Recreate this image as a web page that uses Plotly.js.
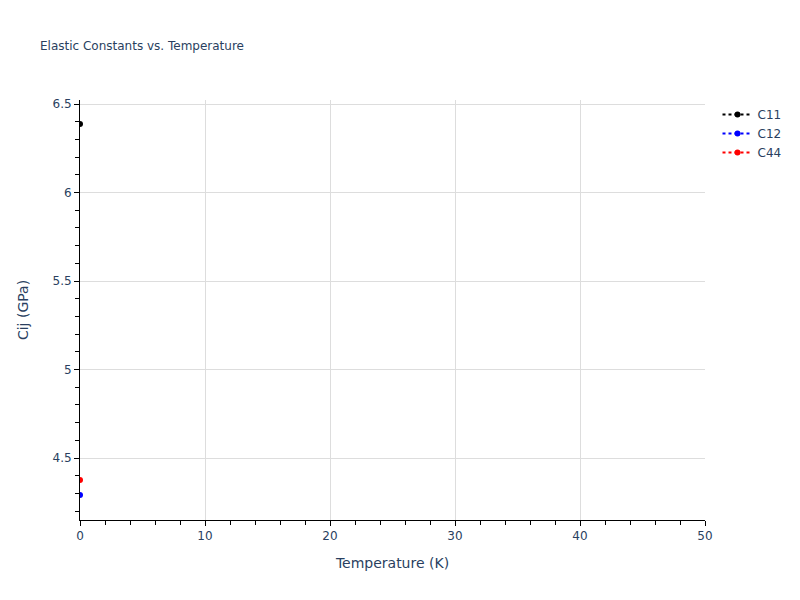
<!DOCTYPE html>
<html>
<head>
<meta charset="utf-8">
<script src="https://cdn.plot.ly/plotly-3.0.1.min.js"></script>
</head>
<body style="margin:0">
<div id="chart" style="width:800px;height:600px;"></div>
<script>
var temps = [0];
var c11 = [6.387];
var c12 = [4.291];
var c44 = [4.376];

function trace(y, name, color) {
  return {
    x: temps,
    y: y,
    name: name,
    mode: 'lines+markers',
    type: 'scatter',
    line: {dash: 'dot', color: color},
    marker: {color: color, size: 6}
  };
}

var data = [
  trace(c11, 'C11', 'black'),
  trace(c12, 'C12', 'blue'),
  trace(c44, 'C44', 'red')
];

var axisStyle = {
  showline: true,
  linecolor: 'black',
  ticks: 'outside',
  tickcolor: 'black',
  gridcolor: '#dddddd',
  zeroline: false
};

var layout = {
  width: 800,
  height: 600,
  font: {family: 'DejaVu Sans', size: 12, color: '#2a3f5f'},
  title: {text: 'Elastic Constants vs. Temperature', font: {size: 12}, x: 0.05, xanchor: 'left'},
  plot_bgcolor: 'white',
  paper_bgcolor: 'white',
  margin: {l: 80, r: 95, t: 100, b: 80},
  xaxis: Object.assign({}, axisStyle, {
    title: {text: 'Temperature (K)', font: {size: 14}, standoff: 15},
    range: [0, 50],
    dtick: 10,
    automargin: false,
    minor: {ticks: 'outside', tickcolor: 'black', ticklen: 4, dtick: 2, showgrid: false}
  }),
  yaxis: Object.assign({}, axisStyle, {
    title: {text: 'Cij (GPa)', font: {size: 14}, standoff: 20},
    range: [4.15, 6.523],
    dtick: 0.5,
    automargin: false,
    minor: {ticks: 'outside', tickcolor: 'black', ticklen: 4, dtick: 0.1, showgrid: false}
  })
};

Plotly.newPlot('chart', data, layout, {displayModeBar: false});
</script>
</body>
</html>
